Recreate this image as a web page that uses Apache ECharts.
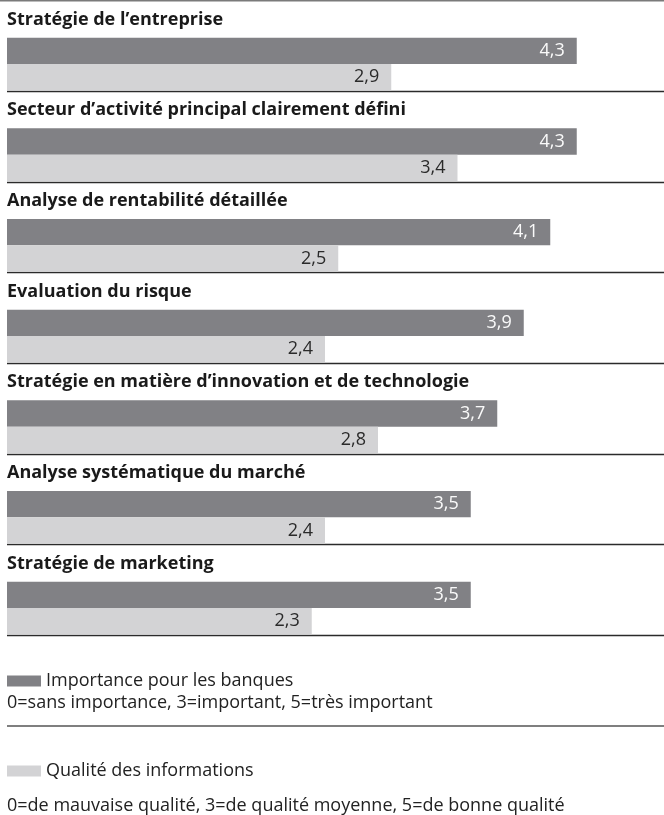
<!DOCTYPE html>
<html>
<head>
<meta charset="utf-8">
<script src="https://cdn.jsdelivr.net/npm/echarts@6/dist/echarts.min.js"></script>
<style>
html, body { margin: 0; padding: 0; background: #ffffff; }
#chart { width: 664px; height: 815px; }
</style>
</head>
<body>
<div id="chart"></div>
<script>
const categories = [
  'Stratégie de l’entreprise',
  'Secteur d’activité principal clairement défini',
  'Analyse de rentabilité détaillée',
  'Evaluation du risque',
  'Stratégie en matière d’innovation et de technologie',
  'Analyse systématique du marché',
  'Stratégie de marketing'
];
const importance = [4.3, 4.3, 4.1, 3.9, 3.7, 3.5, 3.5];
const qualite = [2.9, 3.4, 2.5, 2.4, 2.8, 2.4, 2.3];
const seriesNames = ['Importance pour les banques', 'Qualité des informations'];
const scaleNotes = [
  '0=sans importance, 3=important, 5=très important',
  '0=de mauvaise qualité, 3=de qualité moyenne, 5=de bonne qualité'
];

const fmt = p => p.value.toFixed(1).replace('.', ',');
const regularFont = 'Open Sans';
const boldFont = 'Open Sans';

const chart = echarts.init(document.getElementById('chart'), null, { renderer: 'canvas' });

const sepColors = ['rgba(0,0,0,0)'];
for (let i = 0; i < categories.length; i++) sepColors.push('#2b2b2b');

chart.setOption({
  animation: false,
  backgroundColor: '#ffffff',
  grid: [
    { left: 7, top: 18.67, width: 662.5, height: 634.67, outerBoundsMode: 'none', containLabel: false },
    { left: 7, right: 0, top: 0.67, height: 634.67, outerBoundsMode: 'none', containLabel: false }
  ],
  xAxis: [
    { gridIndex: 0, type: 'value', min: 0, max: 5, show: false },
    { gridIndex: 1, type: 'value', min: 0, max: 1, show: false }
  ],
  yAxis: [
    { gridIndex: 0, type: 'category', data: categories, inverse: true, show: false },
    {
      gridIndex: 1, type: 'value', min: 0, max: categories.length, interval: 1, inverse: true,
      axisLine: { show: false }, axisTick: { show: false },
      splitLine: { show: true, lineStyle: { color: sepColors, width: 1.3 } },
      axisLabel: {
        inside: true, margin: 0, align: 'left', verticalAlign: 'top',
        lineHeight: 38,
        formatter: v => categories[v] || '',
        fontFamily: boldFont, fontWeight: 'bold', fontSize: 18, color: '#1a1a1a'
      }
    }
  ],
  legend: [
    {
      data: [seriesNames[0]], left: 7, top: 672, padding: 0, itemWidth: 34, itemHeight: 11,
      icon: 'rect', selectedMode: false,
      textStyle: { fontFamily: regularFont, fontSize: 18, color: '#222' }
    },
    {
      data: [seriesNames[1]], left: 7, top: 762, padding: 0, itemWidth: 34, itemHeight: 11,
      icon: 'rect', selectedMode: false,
      textStyle: { fontFamily: regularFont, fontSize: 18, color: '#222' }
    }
  ],
  graphic: [
    { type: 'line', shape: { x1: 0, y1: 0.8, x2: 664, y2: 0.8 }, style: { stroke: '#7a7a7a', lineWidth: 1.6 } },
    { type: 'line', shape: { x1: 7, y1: 726, x2: 664, y2: 726 }, style: { stroke: '#555', lineWidth: 1.3 } },
    { type: 'text', x: 7, y: 703, style: { text: scaleNotes[0], fontFamily: regularFont, fontSize: 18, fill: '#222', verticalAlign: 'middle' } },
    { type: 'text', x: 7, y: 806, style: { text: scaleNotes[1], fontFamily: regularFont, fontSize: 18, fill: '#222', verticalAlign: 'middle' } }
  ],
  series: [
    {
      type: 'bar', name: seriesNames[0], xAxisIndex: 0, yAxisIndex: 0, data: importance,
      barWidth: 26.3, barGap: '0%', itemStyle: { color: '#818185' },
      label: { show: true, position: 'insideRight', distance: 12, color: '#fafafa', fontFamily: regularFont, fontSize: 18, formatter: fmt }
    },
    {
      type: 'bar', name: seriesNames[1], xAxisIndex: 0, yAxisIndex: 0, data: qualite,
      barWidth: 26.3, barGap: '0%', itemStyle: { color: '#d3d3d5' },
      label: { show: true, position: 'insideRight', distance: 12, color: '#2a2a2a', fontFamily: regularFont, fontSize: 18, formatter: fmt }
    }
  ]
});
</script>
</body>
</html>
